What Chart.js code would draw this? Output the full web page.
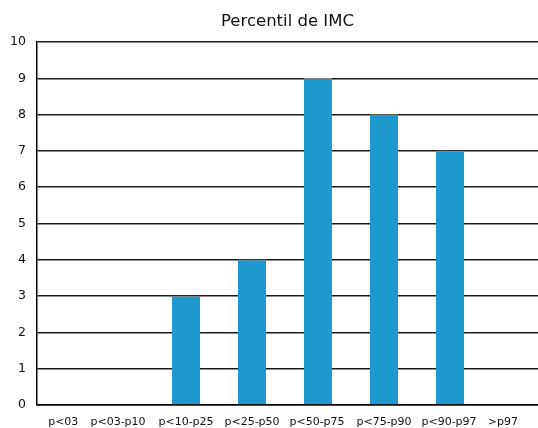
<!DOCTYPE html>
<html>
<head>
<meta charset="utf-8">
<title>Percentil de IMC</title>
<script src="https://cdn.jsdelivr.net/npm/chart.js@4/dist/chart.umd.min.js"></script>
<style>
  html, body { margin: 0; padding: 0; background: #fff; overflow: hidden; }
  canvas { display: block; }
</style>
</head>
<body>
<canvas id="chart" width="538" height="428"></canvas>
<script>
// BMI percentile bands and the number of cases in each
const categories = ['p<03', 'p<03-p10', 'p<10-p25', 'p<25-p50', 'p<50-p75', 'p<75-p90', 'p<90-p97', '>p97'];
const counts = [0, 0, 3, 4, 9, 8, 7, 0];
const yTicks = [0, 1, 2, 3, 4, 5, 6, 7, 8, 9, 10];

// the outermost labels sit slightly inside the plot
const labelNudge = [0.14, -0.03, 0, 0, -0.015, 0, -0.015, -0.2];

const FONT = '"DejaVu Sans", Verdana, sans-serif';
const INK = '#111111';
const BAR = '#1E98CD';

// empty bands get no visible mark on the baseline
const isEmpty = (ctx) => !ctx.raw || ctx.raw.y === 0;

new Chart(document.getElementById('chart'), {
  type: 'bar',
  data: {
    datasets: [{
      label: 'Percentil de IMC',
      data: categories.map((c, i) => ({ x: i, y: counts[i] })),
      backgroundColor: (ctx) => isEmpty(ctx) ? 'rgba(0,0,0,0)' : BAR,
      borderColor: '#8a8a8a',
      borderWidth: (ctx) => isEmpty(ctx) ? 0 : { top: 1, left: 0, right: 0, bottom: 0 },
      borderSkipped: 'bottom',
      barThickness: 28
    }]
  },
  options: {
    responsive: false,
    animation: false,
    events: [],
    layout: { padding: 0 },
    plugins: {
      legend: { display: false },
      tooltip: { enabled: false },
      title: {
        display: true,
        fullSize: false,
        text: 'Percentil de IMC',
        color: INK,
        font: { family: FONT, size: 16.5, weight: 'normal', lineHeight: 1.2 },
        padding: { top: 12, bottom: 10.2 }
      }
    },
    scales: {
      x: {
        type: 'linear',
        offset: false,
        min: -0.2576,
        max: 7.333,
        grid: { display: false, drawTicks: false },
        border: { display: true, color: '#000', width: 1.5 },
        afterBuildTicks: (scale) => {
          scale.ticks = categories.map((c, i) => ({ value: i + labelNudge[i] }));
        },
        afterFit: (scale) => {
          scale.height = 23;
          scale.paddingLeft = 0;
          scale.paddingRight = 0;
        },
        ticks: {
          autoSkip: false,
          maxRotation: 0,
          minRotation: 0,
          padding: 11,
          color: INK,
          font: { family: FONT, size: 11 },
          callback: (value, index) => categories[index]
        }
      },
      y: {
        type: 'linear',
        min: yTicks[0],
        max: yTicks[yTicks.length - 1],
        afterBuildTicks: (scale) => {
          scale.ticks = yTicks.map(v => ({ value: v }));
        },
        afterFit: (scale) => { scale.width = 37; },
        grid: { display: true, drawTicks: false, color: '#1a1a1a', lineWidth: 1.5 },
        border: { display: true, color: '#000', width: 1.5 },
        ticks: {
          padding: 11,
          color: INK,
          font: { family: FONT, size: 12.5 }
        }
      }
    }
  }
});
</script>
</body>
</html>
